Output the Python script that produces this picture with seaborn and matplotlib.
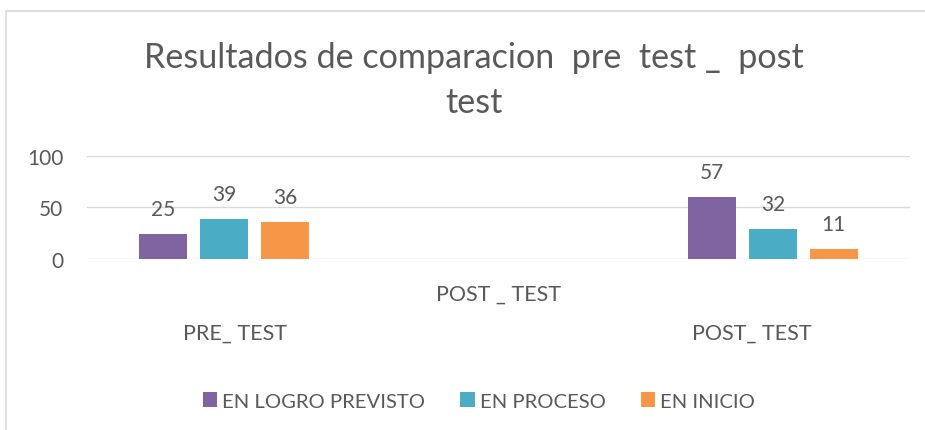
import matplotlib
matplotlib.use("Agg")
import matplotlib.pyplot as plt
import matplotlib.transforms as mtransforms
import seaborn as sns
import pandas as pd
import numpy as np
from matplotlib.patches import Patch
from matplotlib.lines import Line2D

# ---- data ----
categories = ["PRE_ TEST", "POST _ TEST", "POST_ TEST"]
series = ["EN LOGRO PREVISTO", "EN PROCESO", "EN INICIO"]
logro_heights = [24, np.nan, 60]
proceso_heights = [39, np.nan, 29]
inicio_heights = [36, np.nan, 10]
logro_labels = ["25", "", "57"]
proceso_labels = ["39", "", "32"]
inicio_labels = ["36", "", "11"]
yticks = [0, 50, 100]
title_line1 = "Resultados de comparacion  pre  test _  post"
title_line2 = "test"
colors = ["#8064A2", "#4BACC6", "#F79646"]

heights = [logro_heights, proceso_heights, inicio_heights]
labels = [logro_labels, proceso_labels, inicio_labels]
rows = []
for s, hs in zip(series, heights):
    for c, h in zip(categories, hs):
        rows.append({"cat": c, "series": s, "val": h})
df = pd.DataFrame(rows)

sns.set_theme(style="white")
plt.rcParams["font.family"] = ["Lato", "DejaVu Sans"]
TXT = "#595959"
GRID = "#d9d9d9"

fig = plt.figure(figsize=(9.25, 4.31), dpi=100)
W, H = 925, 431
ax = fig.add_axes([87 / W, 1 - 260 / H, (910 - 87) / W, (260 - 156.7) / H])

sns.barplot(data=df, x="cat", y="val", hue="series", order=categories,
            hue_order=series, palette=colors, saturation=1, errorbar=None,
            width=0.667, gap=0.21, ax=ax, legend=False, linewidth=0)

ax.set_ylim(0, 100)
ax.set_xlim(-0.5, 2.5)
ax.set_yticks(yticks)
ax.set_yticklabels([str(t) for t in yticks])
ax.set_xticks(range(len(categories)))
ax.set_xticklabels(categories)
ax.set_xlabel("")
ax.set_ylabel("")
for sp in ax.spines.values():
    sp.set_visible(False)
ax.yaxis.grid(True, color=GRID, linewidth=1.0)
ax.set_axisbelow(True)
ax.tick_params(axis="y", length=0, pad=17, labelsize=15, labelcolor=TXT)
ax.tick_params(axis="x", length=0, labelsize=15.5, labelcolor=TXT)
xt = ax.xaxis.get_major_ticks()
xt[0].set_pad(45.5)
xt[1].set_pad(18)
xt[2].set_pad(45.5)
# staggered label shifts (as in the reference)
for tick, dx in zip(xt, [11, 0, -21]):
    off = mtransforms.ScaledTranslation(dx / 100, 0, fig.dpi_scale_trans)
    tick.label1.set_transform(tick.label1.get_transform() + off)

# data labels
for i, cont in enumerate(ax.containers):
    for bar in cont:
        h = bar.get_height()
        if h is None or np.isnan(h):
            continue
        xc = bar.get_x() + bar.get_width() / 2
        ci = int(round(xc))
        ax.annotate(labels[i][ci], (xc, h), xytext=(0, 18),
                    textcoords="offset points", ha="center", va="center",
                    fontsize=15, color=TXT)

# title
fig.text(474 / W, 1 - 68 / H, title_line1, ha="center", va="baseline",
         fontsize=24.6, color=TXT)
fig.text(474 / W, 1 - 113 / H, title_line2, ha="center", va="baseline",
         fontsize=24.6, color=TXT)

# legend
handles = [Patch(facecolor=c, edgecolor="none") for c in colors]
fig.legend(handles, series, loc="center", bbox_to_anchor=(479 / W, 1 - 402 / H),
           ncol=3, frameon=False, fontsize=14.6, handlelength=0.7,
           handleheight=0.7, handletextpad=0.25, columnspacing=1.75,
           labelcolor=TXT)

# chart border
fig.add_artist(Line2D([6 / W, 1.0], [1 - 12 / H, 1 - 12 / H], color=GRID,
                      linewidth=1.2, transform=fig.transFigure))
fig.add_artist(Line2D([6 / W, 6 / W], [0, 1 - 12 / H], color=GRID,
                      linewidth=1.2, transform=fig.transFigure))

fig.savefig("out.png", dpi=100, facecolor="white")
